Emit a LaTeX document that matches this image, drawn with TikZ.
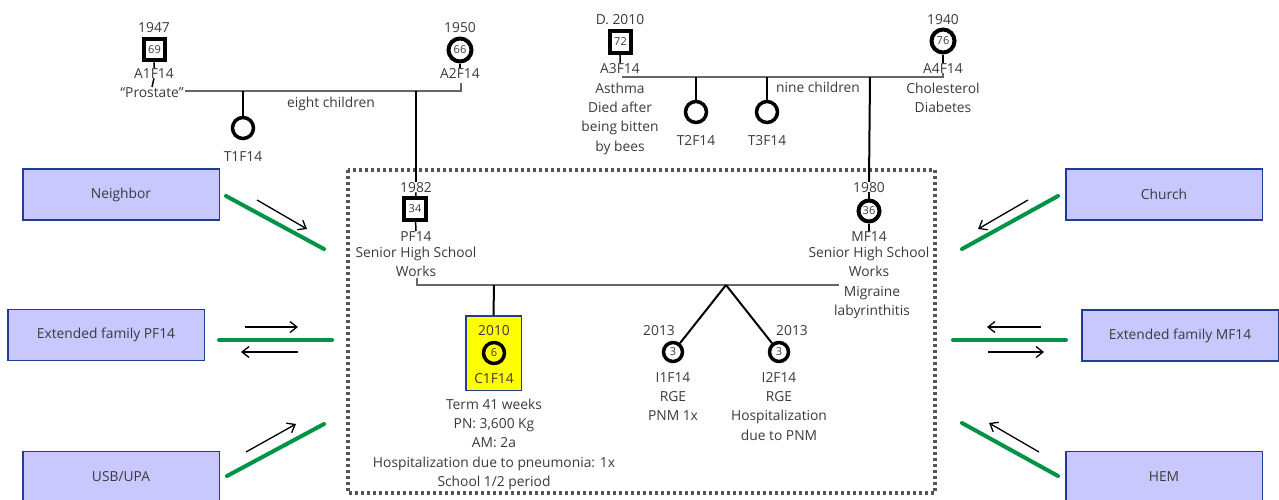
\documentclass[tikz,border=0pt]{standalone}
\usepackage{fontspec}
\setmainfont{Open Sans}
\usetikzlibrary{arrows.meta}
\definecolor{txtc}{HTML}{3A3A3A}
\definecolor{famline}{HTML}{666666}
\definecolor{boxfill}{HTML}{C8C8FF}
\definecolor{boxedge}{HTML}{1F3C96}
\definecolor{relgreen}{HTML}{009245}
\definecolor{dotc}{HTML}{555555}
\definecolor{hilite}{HTML}{FFFF00}
\newcommand\mfont{\fontsize{13.8}{19.4}\selectfont}
\newcommand\afont{\fontsize{11}{12}\selectfont}
\begin{document}
\begin{tikzpicture}[x=1pt,y=-1pt,
  lbl/.style={font=\mfont, text=txtc, inner sep=0pt, anchor=base},
  blk/.style={font=\mfont, text=txtc, inner sep=0pt, anchor=north, align=center},
  male/.style={draw=black, line width=4pt, minimum size=21.5pt, inner sep=0pt, font=\afont, text=txtc},
  female/.style={circle, draw=black, line width=4pt, minimum size=21pt, inner sep=0pt, font=\afont, text=txtc},
  famln/.style={draw=famline, line width=2.2pt},
  kid/.style={draw=black, line width=2pt},
  ecobox/.style={draw=boxedge, fill=boxfill, line width=1.5pt, minimum width=196.5pt, minimum height=51pt, font=\mfont, text=txtc, inner sep=0pt},
  tie/.style={draw=relgreen, line width=4pt, line cap=round},
  flow/.style={draw=black, line width=1.3pt, -{Straight Barb[length=7pt,width=11pt]}},
]
\useasboundingbox (0,0) rectangle (1279,499);

% household frame
\draw[dotc, line width=3.2pt, dash pattern=on 3pt off 3pt] (348,170) rectangle (935,493);

% ---------- paternal grandparents ----------
\node[male] (a1) at (154.5,49.5) {69};
\node[lbl] (a1yr) at (154,32) {1947};
\node[lbl] (a1lbl) at (154,78) {A1F14};
\node[lbl] (prost) at (152,97) {“Prostate”};
\node[female, minimum size=23pt] (a2) at (460,50) {66};
\node[lbl] (a2yr) at (460,32) {1950};
\node[lbl] (a2lbl) at (460,78) {A2F14};
\node[lbl] (eight) at (331,107) {eight children};
\node[female, line width=3.5pt] (t1) at (243,128) {};
\node[lbl] (t1lbl) at (243,161) {T1F14};

\coordinate (u1L) at (185,91);
\coordinate (u1R) at (461,91);
\coordinate (u1T) at (461,83);
\coordinate (j1) at (416,91);
\coordinate (t1j) at (243,91);
\draw[famln] (u1L) -- (u1R) -- (u1T);
\draw[kid, line width=1.5pt] (a1) -- (a1lbl.north);
\draw[kid, line width=1.5pt] (a1lbl.south) -- (prost.north);
\draw[kid, line width=1.5pt] (a2) -- (a2lbl.north);
\draw[kid] (t1j) -- (t1);

% ---------- maternal grandparents ----------
\node[male] (a3) at (620.5,42) {72};
\node[lbl] (a3yr) at (620,24) {D. 2010};
\node[lbl] (a3lbl) at (620,73) {A3F14};
\node[blk] (a3info) at (620,79.3) {\strut Asthma\\Died after\\being bitten\\by bees};
\node[female, minimum size=23pt] (a4) at (943,41) {76};
\node[lbl] (a4yr) at (943,24) {1940};
\node[lbl] (a4lbl) at (943,73) {A4F14};
\node[blk] (a4info) at (943,79.3) {\strut Cholesterol\\Diabetes};
\node[lbl] (nine) at (818,92) {nine children};
\node[female, line width=3.5pt] (t2) at (696,112) {};
\node[lbl] (t2lbl) at (696,145) {T2F14};
\node[female, line width=3.5pt] (t3) at (767,112) {};
\node[lbl] (t3lbl) at (767,145) {T3F14};

\coordinate (u2L) at (622,77);
\coordinate (u2R) at (943,77);
\coordinate (u2T) at (943,73);
\coordinate (j2) at (870,77);
\coordinate (t2j) at (696,77);
\coordinate (t3j) at (767,77);
\draw[famln] (u2L) -- (u2R) -- (u2T);
\draw[kid, line width=1.5pt] (a3) -- (a3lbl.north);
\draw[kid, line width=1.5pt] (a4) -- (a4lbl.north);
\draw[kid] (t2j) -- (t2);
\draw[kid] (t3j) -- (t3);

% ---------- parents ----------
\node[lbl] (pfyr) at (416,192) {1982};
\node[male] (pf) at (415,209) {34};
\node[lbl] (pflbl) at (416,241) {PF14};
\node[blk] (pfinfo) at (416,243.3) {\strut Senior High School\\Works};
\node[lbl] (mfyr) at (869,192) {1980};
\node[female] (mf) at (869,211) {36};
\node[lbl] (mflbl) at (869,241) {MF14};
\node[blk] (mfinfo) at (869,243.3) {\strut Senior High School\\Works};
\node[blk] (mfmed) at (872,282.8) {\strut Migraine\\labyrinthitis};

\draw[kid] (j1) -- (pfyr.north);
\draw[kid] (j2) -- (mfyr.north);
\draw[kid, line width=1.5pt] (pfyr.south) -- (pf);
\draw[kid, line width=1.5pt] (pf) -- (pflbl.north);
\draw[kid, line width=1.5pt] (mfyr.south) -- (mf);
\draw[kid, line width=1.5pt] (mf) -- (mflbl.north);

\coordinate (u3T) at (417,278);
\coordinate (u3L) at (417,285);
\coordinate (u3R) at (839,285);
\coordinate (c1j) at (494,285);
\coordinate (tw) at (726,285);
\draw[famln] (u3T) -- (u3L) -- (u3R);

% ---------- children ----------
\node[draw=boxedge, fill=hilite, line width=1.5pt, minimum width=55.5pt, minimum height=74.5pt, inner sep=0pt] (c1box) at (493.5,353) {};
\node[lbl] (c1yr) at (494,335) {2010};
\node[female, line width=3.5pt] (c1) at (494,353) {6};
\node[lbl] (c1lbl) at (494,383) {C1F14};
\node[blk] (c1info) at (494,395.3) {\strut Term 41 weeks\\PN: 3,600 Kg\\AM: 2a\\Hospitalization due to pneumonia: 1x\\School 1/2 period};
\draw[kid] (c1j) -- (c1box.north);

\node[female, line width=3.5pt, minimum size=19pt] (i1) at (673,352) {3};
\node[lbl] (i1yr) at (659,335) {2013};
\node[blk] (i1info) at (673,368.3) {\strut I1F14\\RGE\\PNM 1x};
\node[female, line width=3.5pt, minimum size=19pt] (i2) at (779,352) {3};
\node[lbl] (i2yr) at (792,335) {2013};
\node[blk] (i2info) at (779,368.3) {\strut I2F14\\RGE\\Hospitalization\\due to PNM};
\draw[kid] (tw) -- (i1);
\draw[kid] (tw) -- (i2);

% ---------- ecomap ----------
\node[ecobox] (nb) at (121,194.5) {Neighbor};
\node[ecobox] (epf) at (106,335) {Extended family PF14};
\node[ecobox] (usb) at (121,477) {USB/UPA};
\node[ecobox] (ch) at (1164,194.5) {Church};
\node[ecobox] (emf) at (1180,335.5) {Extended family MF14};
\node[ecobox] (hem) at (1164,477) {HEM};

\coordinate (nbA) at (226,196);  \coordinate (nbB) at (324,249);
\coordinate (nbF) at (257,200);  \coordinate (nbG) at (307,229);
\draw[tie] (nbA) -- (nbB);
\draw[flow] (nbF) -- (nbG);

\coordinate (epA) at (219,340);  \coordinate (epB) at (332,340);
\coordinate (epF) at (245,327);  \coordinate (epG) at (298,327);
\coordinate (epH) at (298,352);  \coordinate (epI) at (241,352);
\draw[tie] (epA) -- (epB);
\draw[flow] (epF) -- (epG);
\draw[flow] (epH) -- (epI);

\coordinate (usA) at (227,476);  \coordinate (usB) at (324,424);
\coordinate (usF) at (246,452);  \coordinate (usG) at (296,424);
\draw[tie] (usA) -- (usB);
\draw[flow] (usF) -- (usG);

\coordinate (chA) at (1058,196); \coordinate (chB) at (962,249);
\coordinate (chF) at (1028,200); \coordinate (chG) at (978,229);
\draw[tie] (chA) -- (chB);
\draw[flow] (chF) -- (chG);

\coordinate (emA) at (953,340);  \coordinate (emB) at (1066,340);
\coordinate (emF) at (1041,327); \coordinate (emG) at (987,327);
\coordinate (emH) at (988,352);  \coordinate (emI) at (1044,352);
\draw[tie] (emA) -- (emB);
\draw[flow] (emF) -- (emG);
\draw[flow] (emH) -- (emI);

\coordinate (heA) at (962,423);  \coordinate (heB) at (1058,476);
\coordinate (heF) at (1039,452); \coordinate (heG) at (989,423);
\draw[tie] (heA) -- (heB);
\draw[flow] (heF) -- (heG);
\end{tikzpicture}
\end{document}
